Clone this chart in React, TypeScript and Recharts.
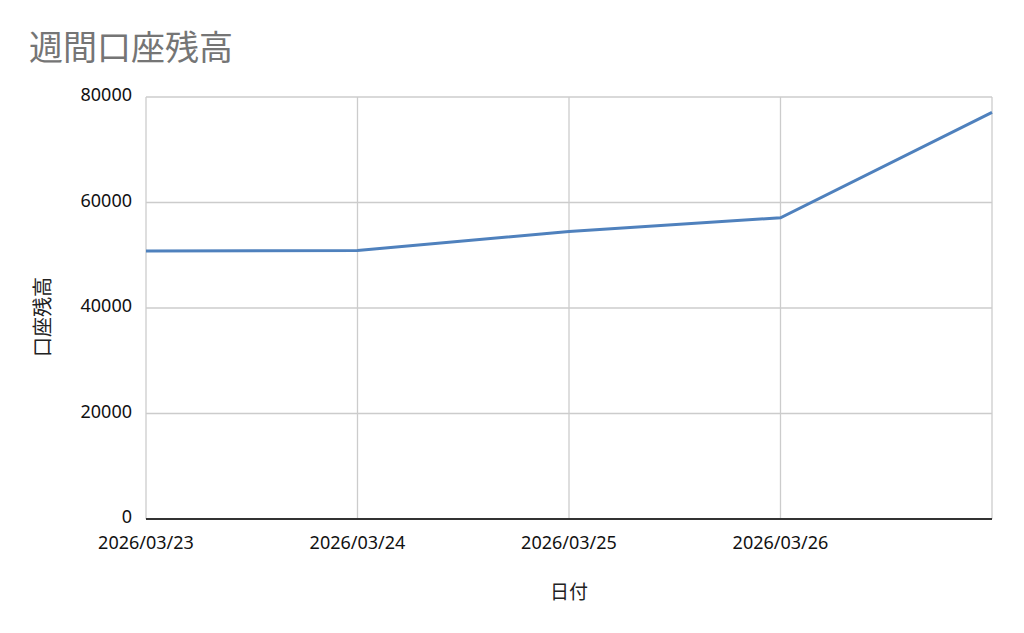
import React from 'react';
import { LineChart, Line, XAxis, YAxis, CartesianGrid } from 'recharts';

const categories = ['2026/03/23', '2026/03/24', '2026/03/25', '2026/03/26', '2026/03/27'];
const balances = [50800, 50900, 54500, 57100, 77100];
const tickLabels = ['2026/03/23', '2026/03/24', '2026/03/25', '2026/03/26', ''];
const yTicks = [0, 20000, 40000, 60000, 80000];

const title = '週間口座残高';
const yLabel = '口座残高';
const xLabel = '日付';

const data = categories.map((c, i) => ({ date: c, balance: balances[i] }));

const FONT = '"Noto Sans CJK JP", "Noto Sans", sans-serif';
const TICK_FONT = '"Noto Sans", "Noto Sans CJK JP", sans-serif';

const YLabel = (props: any) => {
  const vb = props.viewBox || {};
  const cx = vb.x + 41;
  const cy = vb.y + vb.height / 2 + 9;
  return (
    <text
      x={cx}
      y={cy}
      transform={`rotate(-90 ${cx} ${cy})`}
      textAnchor="middle"
      dominantBaseline="central"
      fontSize={20}
      fill="#222"
      fontFamily={FONT}
    >
      {yLabel}
    </text>
  );
};

const XLabel = (props: any) => {
  const vb = props.viewBox || {};
  const cx = vb.x + vb.width / 2;
  const cy = vb.y + 71;
  return (
    <text
      x={cx}
      y={cy}
      textAnchor="middle"
      dominantBaseline="central"
      fontSize={19}
      fill="#222"
      fontFamily={FONT}
    >
      {xLabel}
    </text>
  );
};

export default function App() {
  return (
    <div style={{ position: 'absolute', left: 0, top: 0, width: 1024, height: 633, background: '#fff' }}>
      <div
        style={{
          position: 'absolute',
          left: 29,
          top: 22,
          fontFamily: FONT,
          fontSize: 34,
          color: '#757575',
          lineHeight: '48px',
          whiteSpace: 'nowrap',
        }}
      >
        {title}
      </div>
      <LineChart
        width={1024}
        height={633}
        data={data}
        margin={{ top: 97, right: 32, left: 0, bottom: 0 }}
        style={{ fontFamily: FONT }}
      >
        <CartesianGrid stroke="#cccccc" strokeWidth={1.3} />
        <XAxis
          dataKey="date"
          height={114}
          interval={0}
          tickLine={false}
          axisLine={{ stroke: '#333', strokeWidth: 2 }}
          tick={{ fontSize: 18, fill: '#111', fontFamily: TICK_FONT }}
          tickFormatter={(v: string, i: number) => tickLabels[i] ?? ''}
          tickMargin={11}
          label={<XLabel />}
        />
        <YAxis
          width={146}
          domain={[0, 80000]}
          ticks={yTicks}
          interval={0}
          tickLine={false}
          axisLine={false}
          tick={{ fontSize: 18, fill: '#111', fontFamily: TICK_FONT, dy: -2 }}
          tickMargin={8}
          label={<YLabel />}
        />
        <Line
          type="linear"
          dataKey="balance"
          stroke="#4f81bd"
          strokeWidth={3}
          dot={false}
          isAnimationActive={false}
        />
      </LineChart>
    </div>
  );
}
